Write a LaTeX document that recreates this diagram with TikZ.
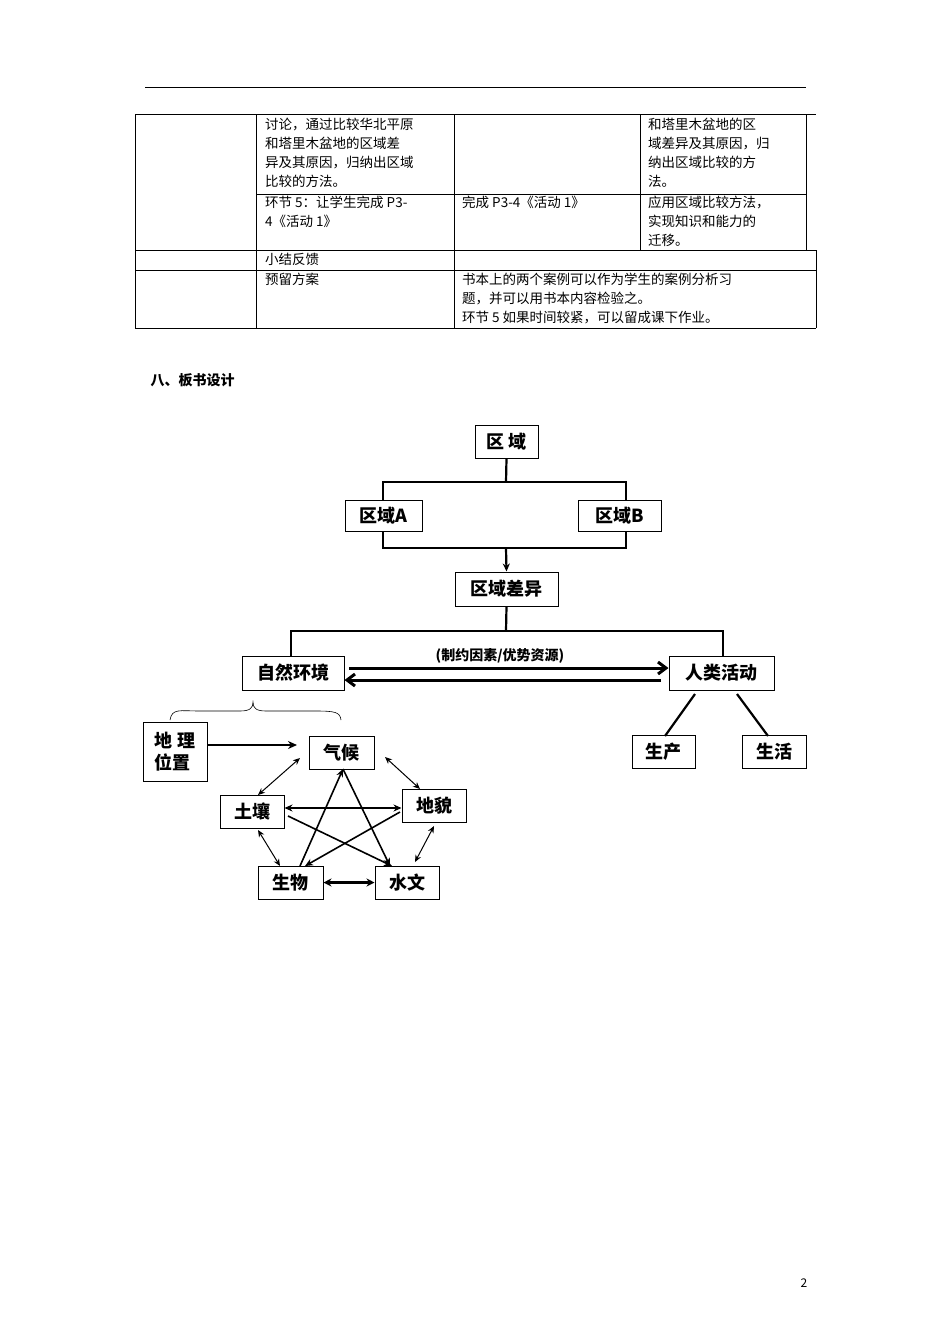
\documentclass[tikz,border=0pt]{standalone}
\usepackage{fontspec}
\setmainfont{Noto Sans CJK SC}
\usetikzlibrary{arrows.meta}
\begin{document}
\begin{tikzpicture}[x=1pt,y=-1pt,
 tb/.style={anchor=north west,inner sep=0pt,font=\fontsize{13.5}{19}\selectfont,align=left},
 bx/.style={draw,line width=1pt,inner sep=0pt,font=\fontsize{18}{22}\selectfont\bfseries},
 thk/.style={line width=2.2pt},
 dbl/.style={line width=1pt,{Stealth[length=7pt,width=6pt]}-{Stealth[length=7pt,width=6pt]}},
 star/.style={line width=1.6pt,-{Stealth[length=8pt,width=7pt]}}]
\useasboundingbox (0,0) rectangle (950,1344);
\draw[line width=1pt] (145,87) -- (806,87);
% table
\draw[line width=0.8pt] (135,114) -- (806,114) (806,114) -- (816,114);
\draw[line width=0.8pt] (256,194) -- (806,194);
\draw[line width=0.8pt] (135,250) -- (816,250) (135,270) -- (816,270) (135,328) -- (816,328);
\draw[line width=0.8pt] (135,114) -- (135,328) (256,114) -- (256,328) (454,114) -- (454,328) (640,114) -- (640,250) (806,114) -- (806,250) (816,250) -- (816,328);
\node[tb] (c1) at (265,118) {讨论，通过比较华北平原\\和塔里木盆地的区域差\\异及其原因，归纳出区域\\比较的方法。};
\node[tb] (c2) at (648,118) {和塔里木盆地的区\\域差异及其原因，归\\纳出区域比较的方\\法。};
\node[tb] (c3) at (265,196) {环节 5：让学生完成 P3-\\4《活动 1》};
\node[tb] (c4) at (462,196) {完成 P3-4《活动 1》};
\node[tb] (c5) at (648,196) {应用区域比较方法，\\实现知识和能力的\\迁移。};
\node[tb] (c6) at (265,253) {小结反馈};
\node[tb] (c7) at (265,273) {预留方案};
\node[tb] (c8) at (462,273) {书本上的两个案例可以作为学生的案例分析习\\题，并可以用书本内容检验之。\\环节 5 如果时间较紧，可以留成课下作业。};
\node[anchor=west,font=\fontsize{14}{16}\selectfont\bfseries] (h8) at (147,380) {八、板书设计};
% diagram
\node[bx,minimum width=63pt,minimum height=33pt] (qy) at (506.5,441.5) {区\ 域};
\node[bx,minimum width=77pt,minimum height=31pt] (qa) at (383.5,515.5) {区域A};
\node[bx,minimum width=83pt,minimum height=31pt] (qb) at (619.5,515.5) {区域B};
\node[bx,minimum width=103pt,minimum height=34pt] (cy) at (506.5,589) {区域差异};
\node[bx,minimum width=102pt,minimum height=34pt] (zr) at (293,673) {自然环境};
\node[bx,minimum width=105pt,minimum height=34pt] (rl) at (721.5,673) {人类活动};
\node[font=\fontsize{14}{16}\selectfont\bfseries] (lab) at (500,656) {(制约因素/优势资源)};
\draw[thk] (qy.south) -- (506,482);
\draw[thk] (383,500) -- (383,482) -- (626,482) -- (626,500);
\draw[thk] (383,531) -- (383,548) -- (626,548) -- (626,531);
\draw[thk,-{Stealth[length=8pt,width=7pt]}] (506,548) -- (cy.north);
\draw[thk] (cy.south) -- (506,631);
\draw[thk] (291,656) -- (291,631) -- (723,631) -- (723,656);
\draw[line width=3pt,-{Straight Barb[length=8pt,width=12pt]}] (349,668) -- (rl.west |- 0,668);
\draw[line width=3pt,-{Straight Barb[length=8pt,width=12pt]}] (661,680) -- (zr.east |- 0,680);
\node[bx,minimum width=63pt,minimum height=33pt] (sc) at (663.5,752) {生产};
\node[bx,minimum width=64pt,minimum height=33pt] (sh) at (774,752) {生活};
\draw[thk] (695,694) -- (665,736);
\draw[thk] (737,694) -- (768,736);
\draw[line width=0.6pt] (170,720) .. controls (172,708) and (180,711) .. (200,711) -- (240,711) .. controls (250,711) and (253,708) .. (253,702) .. controls (253,708) and (256,711) .. (266,711) -- (315,711) .. controls (335,711) and (340,712) .. (341,720);
\node[bx,minimum width=64pt,minimum height=59pt,align=left,font=\fontsize{18}{22}\selectfont\bfseries] (dl) at (175,751.5) {地\ 理\\位置};
\node[bx,minimum width=65pt,minimum height=33pt] (qh) at (341.5,752.5) {气候};
\node[bx,minimum width=64pt,minimum height=33pt] (tr) at (252,811.5) {土壤};
\node[bx,minimum width=64pt,minimum height=33pt] (dm) at (434,805.5) {地貌};
\node[bx,minimum width=65pt,minimum height=33pt] (sw) at (290.5,882.5) {生物};
\node[bx,minimum width=64pt,minimum height=33pt] (swn) at (407,882.5) {水文};
\draw[thk,-{Stealth[length=9pt,width=8pt]}] (dl.east |- 0,745) -- (297,745);
\draw[dbl] (300,758) -- (258,795);
\draw[dbl] (385,757) -- (420,789);
\draw[dbl] (258,830) -- (280,866);
\draw[dbl] (434,826) -- (415,862);
\draw[thk,{Stealth[length=8pt,width=8pt]}-{Stealth[length=8pt,width=8pt]}] (sw.east) -- (swn.west);
\draw[star] (300,866) -- (343,769);
\draw[star] (343,769) -- (390,866);
\draw[star,{Stealth[length=8pt,width=7pt]}-{Stealth[length=8pt,width=7pt]}] (tr.east |- 0,808) -- (dm.west |- 0,808);
\draw[star] (288,816) -- (392,866);
\draw[star] (400,812) -- (305,866);
\node[font=\fontsize{12}{14}\selectfont] (pg) at (804,1283) {2};
\end{tikzpicture}
\end{document}
